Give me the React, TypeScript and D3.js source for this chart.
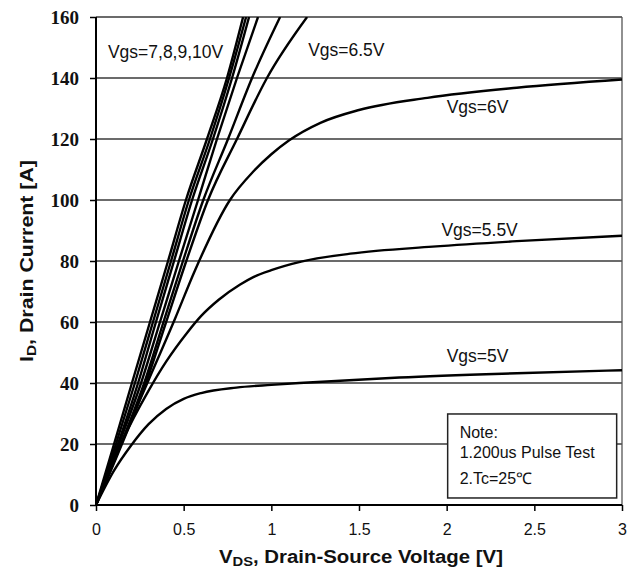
import React, { useEffect, useRef } from 'react';
import * as d3 from 'd3';

// drain current levels used to read the steep (ohmic) curves
const steepCurrents = [0, 20, 40, 60, 80, 100, 120, 140, 160];

// VDS [V] at each of steepCurrents, for the curves that run off the top
const vgs10 = [0, 0.103, 0.205, 0.308, 0.411, 0.513, 0.633, 0.747, 0.839];
const vgs9 = [0, 0.114, 0.222, 0.325, 0.428, 0.53, 0.65, 0.759, 0.856];
const vgs8 = [0, 0.125, 0.24, 0.342, 0.445, 0.548, 0.667, 0.776, 0.873];
const vgs7 = [0, 0.131, 0.257, 0.365, 0.473, 0.582, 0.69, 0.804, 0.924];
const vgs675 = [0, 0.143, 0.275, 0.385, 0.496, 0.612, 0.753, 0.89, 1.05];
const vgs65 = [0, 0.148, 0.285, 0.4, 0.515, 0.639, 0.804, 0.975, 1.204];

// saturating curves as [VDS, ID] pairs
const vgs6: [number, number][] = [
  [0, 0], [0.15, 21], [0.3, 41], [0.45, 61], [0.565, 77], [0.764, 100],
  [0.9, 109.5], [1.0, 115], [1.1, 119.5], [1.28, 125.3], [1.5, 129.5],
  [1.89, 133.5], [2.4, 136.8], [3, 139.5],
];
const vgs55: [number, number][] = [
  [0, 0], [0.15, 21], [0.3, 37.5], [0.4, 47], [0.52, 56.5], [0.6, 62], [0.7, 67.3],
  [0.82, 72.2], [0.9, 74.8], [1.0, 77], [1.17, 79.8], [1.45, 82.4], [1.92, 84.7],
  [2.4, 86.5], [3, 88.3],
];
const vgs5: [number, number][] = [
  [0, 0], [0.1, 11], [0.2, 19.5], [0.3, 26.5], [0.4, 31.5], [0.5, 34.8], [0.6, 36.7],
  [0.8, 38.5], [1.0, 39.4], [1.16, 40], [1.73, 41.8], [2.4, 43.2], [3, 44.2],
];

const xTicks = [0, 0.5, 1, 1.5, 2, 2.5, 3];
const yTicks = [0, 20, 40, 60, 80, 100, 120, 140, 160];

const curveLabels = [
  { text: 'Vgs=7,8,9,10V', v: 0.068, i: 146.5 },
  { text: 'Vgs=6.5V', v: 1.21, i: 147.2 },
  { text: 'Vgs=6V', v: 2.0, i: 128.5 },
  { text: 'Vgs=5.5V', v: 1.97, i: 88.2 },
  { text: 'Vgs=5V', v: 2.0, i: 46.9 },
];

const noteLines = ['Note:', '1.200us Pulse Test', '2.Tc=25℃'];

const App = () => {
  const svgRef = useRef<SVGSVGElement>(null);

  useEffect(() => {
    const margin = { top: 17, right: 10, bottom: 73, left: 96 };
    const W = 632;
    const H = 578;
    const width = W - margin.left - margin.right;
    const height = H - margin.top - margin.bottom;

    const root = d3.select(svgRef.current).attr('width', W).attr('height', H);
    root.selectAll('*').remove();

    const svg = root.append('g').attr('transform', `translate(${margin.left},${margin.top})`);

    const x = d3.scaleLinear().domain([0, 3]).range([0, width]);
    const y = d3.scaleLinear().domain([0, 160]).range([height, 0]);

    svg.append('clipPath').attr('id', 'plot').append('rect')
      .attr('width', width).attr('height', height);

    // horizontal grid
    svg.selectAll('.grid').data(yTicks.slice(1)).enter().append('line')
      .attr('x1', 0).attr('x2', width)
      .attr('y1', (d) => y(d)).attr('y2', (d) => y(d))
      .attr('stroke', '#3a3a3a').attr('stroke-width', 1.6);

    // right border
    svg.append('line').attr('x1', width).attr('x2', width).attr('y1', 0).attr('y2', height)
      .attr('stroke', '#555').attr('stroke-width', 1.3);

    // curves
    const line = d3.line<[number, number]>()
      .x((d) => x(d[0])).y((d) => y(d[1]))
      .curve(d3.curveMonotoneX);

    const steep = [vgs10, vgs9, vgs8, vgs7, vgs675, vgs65].map(
      (vs) => vs.map((v, k) => [v, steepCurrents[k]] as [number, number])
    );
    const all = [...steep, vgs6, vgs55, vgs5];

    svg.append('g').attr('clip-path', 'url(#plot)')
      .selectAll('path').data(all).enter().append('path')
      .attr('d', (d) => line(d))
      .attr('fill', 'none').attr('stroke', '#000').attr('stroke-width', 2.4)
      .attr('stroke-linejoin', 'round');

    // axes
    const xAxis = svg.append('g').attr('transform', `translate(0,${height})`)
      .call(d3.axisBottom(x).tickValues(xTicks).tickSize(6).tickFormat((d) => String(d)));
    xAxis.select('.domain').attr('stroke-width', 2).attr('d', `M0,0H${width}`);
    xAxis.selectAll('.tick line').attr('stroke-width', 1.5);
    xAxis.selectAll('.tick text')
      .attr('dy', 0).attr('y', 30)
      .attr('font-family', 'Liberation Sans, Arial, sans-serif').attr('font-size', 16).attr('fill', '#111');

    const yAxis = svg.append('g')
      .call(d3.axisLeft(y).tickValues(yTicks).tickSize(6).tickFormat((d) => String(d)));
    yAxis.select('.domain').attr('stroke-width', 2).attr('d', `M0,${height}V0`);
    yAxis.selectAll('.tick line').attr('stroke-width', 1.5);
    yAxis.selectAll('.tick text')
      .attr('x', -17).attr('dy', '0.34em')
      .attr('font-family', 'Liberation Serif, Times New Roman, serif')
      .attr('font-weight', 'bold').attr('font-size', 19).attr('fill', '#111');

    // curve labels
    svg.selectAll('.clabel').data(curveLabels).enter().append('text')
      .attr('x', (d) => x(d.v)).attr('y', (d) => y(d.i))
      .attr('font-family', 'Liberation Sans, Arial, sans-serif').attr('font-size', 17.5)
      .attr('fill', '#111')
      .text((d) => d.text);

    // note box
    const note = svg.append('g').attr('transform', `translate(${x(2.0) + 1},${y(30.5) + 2})`);
    note.append('rect').attr('width', 169).attr('height', 84)
      .attr('fill', '#fff').attr('stroke', '#222').attr('stroke-width', 1.5);
    note.selectAll('text').data(noteLines).enter().append('text')
      .attr('x', 12).attr('y', (d, k) => [24, 44, 70][k])
      .attr('font-family', 'Liberation Sans, Arial, sans-serif').attr('font-size', 16)
      .attr('fill', '#111')
      .text((d) => d);

    // axis titles
    const xt = root.append('text').attr('x', 219).attr('y', 563)
      .attr('font-family', 'Liberation Sans, Arial, sans-serif').attr('font-weight', 'bold')
      .attr('font-size', 18).attr('fill', '#111')
      .attr('textLength', 284).attr('lengthAdjust', 'spacingAndGlyphs');
    xt.append('tspan').text('V');
    xt.append('tspan').attr('font-size', 13).attr('dy', 3).text('DS');
    xt.append('tspan').attr('dy', -3).text(', Drain-Source Voltage [V]');

    const yt = root.append('text').attr('transform', 'translate(33,362) rotate(-90)')
      .attr('font-family', 'Liberation Sans, Arial, sans-serif').attr('font-weight', 'bold')
      .attr('font-size', 18).attr('fill', '#111')
      .attr('textLength', 202).attr('lengthAdjust', 'spacingAndGlyphs');
    yt.append('tspan').text('I');
    yt.append('tspan').attr('font-size', 13).attr('dy', 3).text('D');
    yt.append('tspan').attr('dy', -3).text(', Drain Current [A]');
  }, []);

  return (
    <svg ref={svgRef} style={{ position: 'absolute', left: 0, top: 0, background: '#fff' }}></svg>
  );
};

export default App;
